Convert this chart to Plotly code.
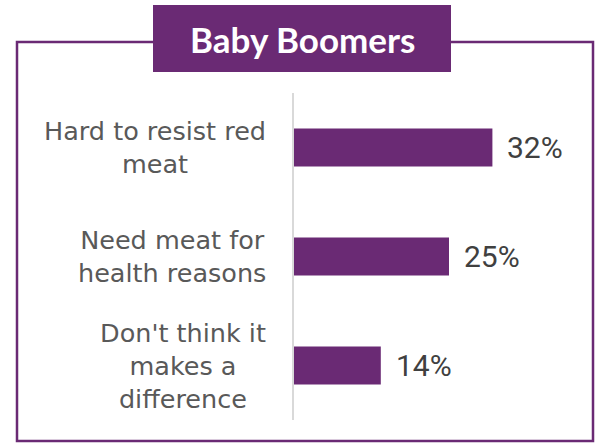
import plotly.graph_objects as go

# Chart data
title_text = "Baby Boomers"
categories = ["Hard to resist red<br>meat", "Need meat for<br>health reasons", "Don't think it<br>makes a<br>difference"]
values = [32, 25, 14]
value_labels = ["32%", "25%", "14%"]

PURPLE = "#6A2A74"
FIG_W, FIG_H = 603, 448

# Plot-area geometry (pixels)
L, R_MARGIN, T, B_MARGIN = 294, 30, 93, 28
X_MAX = 45
PW = FIG_W - L - R_MARGIN
PH = FIG_H - T - B_MARGIN


def px_x(px):
    return (px - L) / PW


def px_y(py):
    return (FIG_H - B_MARGIN - py) / PH


fig = go.Figure()
fig.add_trace(go.Bar(
    x=values,
    y=categories,
    orientation="h",
    width=0.35,
    marker=dict(color=PURPLE, line=dict(width=0)),
    hoverinfo="skip",
))

annotations = []
for cat in categories:
    annotations.append(dict(
        x=px_x(268), xref="paper", y=cat, yref="y",
        text=cat, showarrow=False, xanchor="right", yanchor="middle",
        align="center",
        font=dict(family="DejaVu Sans", size=25.5, color="#595959"),
    ))
for cat, v, lab in zip(categories, values, value_labels):
    annotations.append(dict(
        x=v, xref="x", y=cat, yref="y", text=lab, showarrow=False,
        xanchor="left", yanchor="middle", xshift=13,
        font=dict(family="Roboto", size=30, color="#404040"),
    ))
annotations.append(dict(
    x=px_x(302), xref="paper", y=px_y(39), yref="paper",
    text="<b>" + title_text + "</b>", showarrow=False,
    xanchor="center", yanchor="middle",
    font=dict(family="Lato", size=35, color="white"),
))

shapes = [
    # outer frame
    dict(type="rect", xref="paper", yref="paper",
         x0=px_x(17), x1=px_x(593), y0=px_y(441), y1=px_y(42),
         line=dict(color=PURPLE, width=2.5), fillcolor="rgba(0,0,0,0)", layer="below"),
    # title box
    dict(type="rect", xref="paper", yref="paper",
         x0=px_x(153), x1=px_x(451), y0=px_y(72), y1=px_y(5),
         line=dict(width=0), fillcolor=PURPLE, layer="below"),
]

fig.update_layout(
    width=FIG_W, height=FIG_H,
    margin=dict(l=L, r=R_MARGIN, t=T, b=B_MARGIN),
    paper_bgcolor="white", plot_bgcolor="white",
    showlegend=False,
    xaxis=dict(range=[0, X_MAX], visible=False, fixedrange=True),
    yaxis=dict(autorange="reversed", showticklabels=False, ticks="",
               showgrid=False, zeroline=False, showline=True,
               linecolor="#D9D9D9", linewidth=1.5, fixedrange=True),
    annotations=annotations,
    shapes=shapes,
)

fig.write_html("out.html", config={"displayModeBar": False})
